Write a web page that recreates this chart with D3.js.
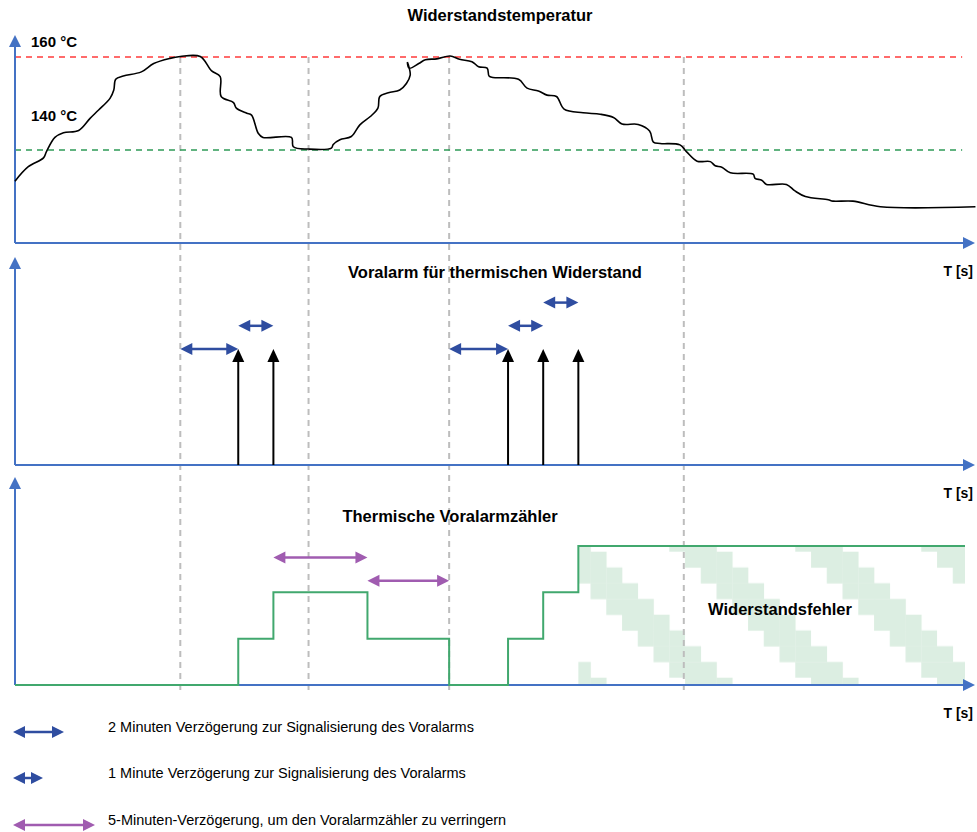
<!DOCTYPE html>
<html>
<head>
<meta charset="utf-8">
<script src="https://cdn.jsdelivr.net/npm/d3@7"></script>
<style>
body { margin: 0; background: #fff; }
text { font-family: "Liberation Sans", Arial, sans-serif; fill: #000; }
</style>
</head>
<body>
<script>
var svgWidth = 977;
var svgHeight = 832;

// time runs 0..100 (arbitrary units) across all three panels
var tempTime = [0,1.4,3.0,3.3,4.2,5.1,6.7,7.9,8.8,10.0,
    10.4,10.6,11.4,13.3,14.6,16.3,17.4,19.5,20.7,21.6,
    21.7,23.0,23.3,24.4,24.9,25.6,26.1,29.1,29.3,30.9,
    33.3,33.5,34.2,35.4,36.3,37.4,38.2,38.4,39.3,40.5,
    41.2,41.6,41.5,41.3,41.5,42.5,43.2,44.4,45.8,46.8,
    48.1,48.8,49.7,49.9,50.3,53.0,53.9,55.1,56.0,57.0,
    57.8,59.8,61.6,63.0,63.9,65.6,66.8,67.2,67.9,70.0,
    70.7,71.8,73.2,73.7,74.4,75.3,77.7,77.9,78.6,79.1,
    81.2,82.1,83.2,85.6,86.1,88.2,91.1,101.1];
var tempValue = [133.3,136.4,138.3,139.6,142.7,143.7,144.2,146.8,148.6,151.1,
    152.9,155.2,155.9,156.8,158.6,159.7,160.1,160.1,157.0,155.8,
    151.5,150.2,149.0,147.9,147.5,143.6,142.7,142.7,140.7,140.2,
    140.4,141.2,142.2,142.9,145.4,147.2,149.0,151.5,152.3,152.9,
    154.3,156.1,157.6,158.9,157.6,158.6,159.4,159.6,160.2,159.5,
    159.0,157.9,157.6,155.9,155.6,155.2,153.3,152.7,151.8,151.5,
    148.8,148.0,147.7,147.0,145.6,145.5,144.1,141.7,141.4,141.1,
    139.6,137.6,137.5,136.6,136.3,135.1,134.8,133.9,133.5,132.6,
    132.6,131.2,130.0,129.3,129.0,129.0,127.8,127.8];

var thresholds = [160, 140];
var thresholdColors = ["#FF3B3B", "#2E9A57"];
var thresholdLabels = ["160 °C", "140 °C"];
var thresholdLabelTemp = [163, 147];

var markerTimes = [17.4, 30.9, 45.7, 70.4];

var alarmTimes = [23.5, 27.2, 51.9, 55.6, 59.3];
var delayStart = [17.4, 23.5, 45.7, 51.9, 55.6];
var delayEnd = [23.5, 27.2, 51.9, 55.6, 59.3];
var delayLevel = [1, 1.2, 1, 1.2, 1.4];

var decayStart = [27.2, 37.1];
var decayEnd = [37.1, 45.7];
var decayLevel = [2.75, 2.25];

var counterTime = [0, 23.5, 27.2, 37.1, 45.7, 51.9, 55.6, 59.3, 100];
var counterValue = [0, 1, 2, 1, 0, 1, 2, 3, 3];
var faultStart = 59.3;
var faultEnd = 100;

var titles = ["Widerstandstemperatur", "Voralarm für thermischen Widerstand", "Thermische Voralarmzähler"];
var legendLabels = [
    "2 Minuten Verzögerung zur Signalisierung des Voralarms",
    "1 Minute Verzögerung zur Signalisierung des Voralarms",
    "5-Minuten-Verzögerung, um den Voralarmzähler zu verringern"
];

var axisBlue = "#4472C4";
var darkBlue = "#2F4DA0";
var purple = "#A05CB0";
var green = "#41A86E";

var svg = d3.select("body")
    .append("svg")
    .attr("width", svgWidth)
    .attr("height", svgHeight);

var x = d3.scaleLinear().domain([0, 100]).range([15, 965]);
var yTemp = d3.scaleLinear().domain([120, 160]).range([243, 57]);
var yAlarm = d3.scaleLinear().domain([0, 1]).range([465, 349]);
var yCount = d3.scaleLinear().domain([0, 3]).range([685, 546]);

function head(g, hx, hy, dir, len, wid, color) {
    var p;
    if (dir === "up") p = [[hx, hy], [hx - wid / 2, hy + len], [hx + wid / 2, hy + len]];
    else if (dir === "right") p = [[hx, hy], [hx - len, hy - wid / 2], [hx - len, hy + wid / 2]];
    else p = [[hx, hy], [hx + len, hy - wid / 2], [hx + len, hy + wid / 2]];
    g.append("path").attr("d", "M" + p.join("L") + "Z").attr("fill", color);
}

function doubleArrow(g, x1, x2, y, color) {
    g.append("line")
        .attr("x1", x1 + 10).attr("x2", x2 - 10)
        .attr("y1", y).attr("y2", y)
        .attr("stroke", color).attr("stroke-width", 2.5);
    head(g, x1, y, "left", 12, 12, color);
    head(g, x2, y, "right", 12, 12, color);
}

// fault hatch pattern (staircase diagonal)
var sq = 15.75;
var pattern = svg.append("defs").append("pattern")
    .attr("id", "fault")
    .attr("patternUnits", "userSpaceOnUse")
    .attr("x", x(faultStart) + 106.7)
    .attr("y", yCount(3) + 5.7)
    .attr("width", sq * 8)
    .attr("height", sq * 8);
d3.range(8).forEach(function(r) {
    d3.range(3).forEach(function(k) {
        var c = (r + k) % 8;
        pattern.append("rect")
            .attr("x", c * sq).attr("y", r * sq)
            .attr("width", sq + 0.3).attr("height", sq + 0.3)
            .attr("fill", "#DCEEE2");
    });
});

svg.append("rect")
    .attr("x", x(faultStart))
    .attr("y", yCount(3))
    .attr("width", x(faultEnd) - x(faultStart))
    .attr("height", yCount(0) - yCount(3))
    .attr("fill", "url(#fault)");

// vertical markers
svg.selectAll(".marker")
    .data(markerTimes)
    .enter().append("line")
    .attr("class", "marker")
    .attr("x1", d => x(d)).attr("x2", d => x(d))
    .attr("y1", yTemp(160)).attr("y2", yCount(0) + 5)
    .attr("stroke", "#BDBDBD")
    .attr("stroke-width", 2)
    .attr("stroke-dasharray", "6,5");

// threshold lines
thresholds.forEach(function(t, i) {
    svg.append("line")
        .attr("x1", x(0)).attr("x2", x(99.7))
        .attr("y1", yTemp(t)).attr("y2", yTemp(t))
        .attr("stroke", thresholdColors[i])
        .attr("stroke-width", 1.5)
        .attr("stroke-dasharray", "6,5");
    svg.append("text")
        .attr("x", 31)
        .attr("y", yTemp(thresholdLabelTemp[i]) + 4)
        .attr("font-size", 15)
        .attr("font-weight", "bold")
        .text(thresholdLabels[i]);
});

// axes
var baselines = [yTemp(120), yAlarm(0), yCount(0)];
baselines.forEach(function(b) {
    var g = svg.append("g");
    g.append("line")
        .attr("x1", x(0)).attr("x2", x(101.05) - 10)
        .attr("y1", b).attr("y2", b)
        .attr("stroke", axisBlue).attr("stroke-width", 2);
    head(g, x(101.05), b, "right", 12, 12, axisBlue);
    g.append("line")
        .attr("x1", x(0)).attr("x2", x(0))
        .attr("y1", b).attr("y2", b - 198)
        .attr("stroke", axisBlue).attr("stroke-width", 2);
    head(g, x(0), b - 208, "up", 12, 12, axisBlue);
    g.append("text")
        .attr("x", 973)
        .attr("y", b + 33)
        .attr("text-anchor", "end")
        .attr("font-size", 14)
        .attr("font-weight", "bold")
        .text("T [s]");
});

// temperature curve
var tempData = tempTime.map((t, i) => [t, tempValue[i]]);
svg.append("path")
    .datum(tempData)
    .attr("fill", "none")
    .attr("stroke", "#000")
    .attr("stroke-width", 1.6)
    .attr("d", d3.line()
        .x(d => x(d[0]))
        .y(d => yTemp(d[1]))
        .curve(d3.curveCatmullRom.alpha(0.5)));

// alarm arrows
alarmTimes.forEach(function(t) {
    svg.append("line")
        .attr("x1", x(t)).attr("x2", x(t))
        .attr("y1", yAlarm(0)).attr("y2", yAlarm(1) + 10)
        .attr("stroke", "#000").attr("stroke-width", 2);
    head(svg, x(t), yAlarm(1), "up", 13, 12, "#000");
});

delayStart.forEach(function(s, i) {
    doubleArrow(svg, x(s), x(delayEnd[i]), yAlarm(delayLevel[i]), darkBlue);
});

// counter
var countData = counterTime.map((t, i) => [t, counterValue[i]]);
svg.append("path")
    .datum(countData)
    .attr("fill", "none")
    .attr("stroke", green)
    .attr("stroke-width", 2)
    .attr("d", d3.line()
        .x(d => x(d[0]))
        .y(d => yCount(d[1]))
        .curve(d3.curveStepAfter));

decayStart.forEach(function(s, i) {
    doubleArrow(svg, x(s), x(decayEnd[i]), yCount(decayLevel[i]), purple);
});

// titles
var titleSize = 16.5;
svg.append("text").attr("x", 500).attr("y", 21).attr("text-anchor", "middle")
    .attr("font-size", titleSize).attr("font-weight", "bold").text(titles[0]);
svg.append("text").attr("x", 495).attr("y", 278).attr("text-anchor", "middle")
    .attr("font-size", titleSize).attr("font-weight", "bold").text(titles[1]);
svg.append("text").attr("x", 450).attr("y", 522).attr("text-anchor", "middle")
    .attr("font-size", titleSize).attr("font-weight", "bold").text(titles[2]);
svg.append("text").attr("x", 780).attr("y", 615).attr("text-anchor", "middle")
    .attr("font-size", titleSize).attr("font-weight", "bold").text("Widerstandsfehler");

// legend
var legendY = [732, 778, 825];
var legendW = [51, 30, 82];
var legendColor = [darkBlue, darkBlue, purple];
legendLabels.forEach(function(l, i) {
    doubleArrow(svg, 13, 13 + legendW[i], legendY[i], legendColor[i]);
    svg.append("text")
        .attr("x", 108)
        .attr("y", legendY[i])
        .attr("font-size", 14.5)
        .text(l);
});
</script>
</body>
</html>
